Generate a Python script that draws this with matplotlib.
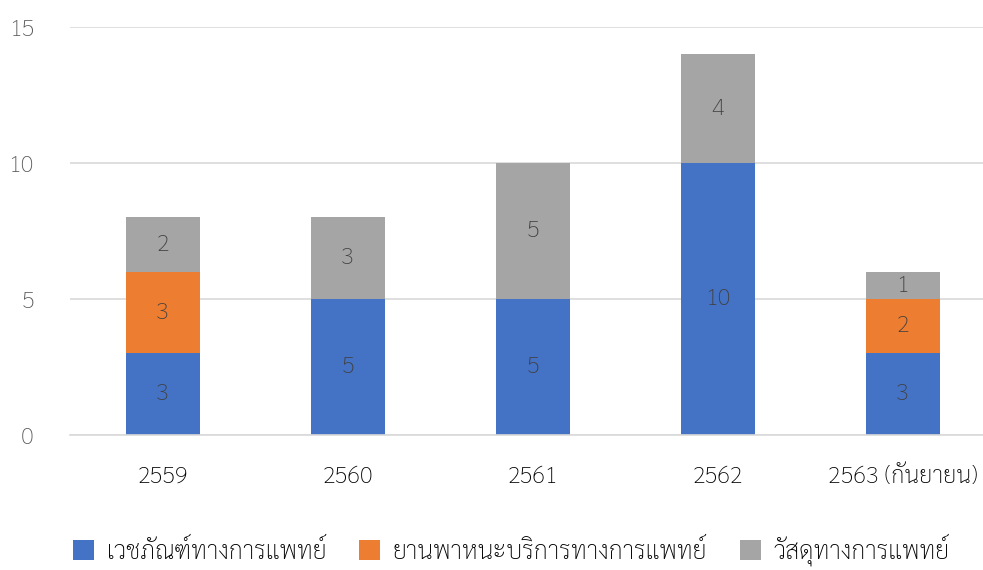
import matplotlib
matplotlib.use("Agg")
import matplotlib.pyplot as plt
import numpy as np

plt.rcParams['font.family'] = ['Sarabun', 'DejaVu Sans']
plt.rcParams['font.weight'] = 'light'

years = ['2559', '2560', '2561', '2562', '2563 (กันยายน)']
series = ['เวชภัณฑ์ทางการแพทย์', 'ยานพาหนะบริการทางการแพทย์', 'วัสดุทางการแพทย์']
medical_supplies = [3, 5, 5, 10, 3]
vehicles = [3, 0, 0, 0, 2]
materials = [2, 3, 5, 4, 1]
colors = ['#4472C4', '#ED7D31', '#A5A5A5']

fig = plt.figure(figsize=(9.83, 5.70), dpi=100)
ax = fig.add_axes([70 / 983, 1 - 435 / 570, 925 / 983, 408 / 570])

x = np.arange(len(years))
bottom = np.zeros(len(years))
for name, vals, c in zip(series, [medical_supplies, vehicles, materials], colors):
    vals = np.array(vals, dtype=float)
    bars = ax.bar(x, vals, 0.4, bottom=bottom, color=c, label=name, zorder=2)
    for b, v, b0 in zip(bars, vals, bottom):
        if v > 0:
            ax.text(b.get_x() + b.get_width() / 2, b0 + v / 2, f'{v:g}',
                    ha='center', va='center', fontsize=17, color='#404040')
    bottom += vals

ax.set_xlim(-0.5, len(years) - 0.5)
ax.set_ylim(0, 15)
ax.set_yticks([0, 5, 10, 15])
ax.set_xticks(x)
ax.set_xticklabels(years)
ax.grid(axis='y', color='#D9D9D9', linewidth=1.2, zorder=0)
ax.set_axisbelow(True)
for s in ['top', 'right', 'left']:
    ax.spines[s].set_visible(False)
ax.spines['bottom'].set_color('#D9D9D9')
ax.spines['bottom'].set_linewidth(1.2)
ax.tick_params(axis='y', length=0, pad=26, labelsize=17, labelcolor='#595959')
ax.tick_params(axis='x', length=0, pad=22, labelsize=17, labelcolor='#000000')

fig.legend(loc='center', bbox_to_anchor=(0.52, 1 - 550 / 570), ncol=3, frameon=False,
           fontsize=18, handlelength=0.85, handleheight=0.85, handletextpad=0.5,
           columnspacing=1.3, labelcolor='#000000')

fig.savefig('out.png', dpi=100)
